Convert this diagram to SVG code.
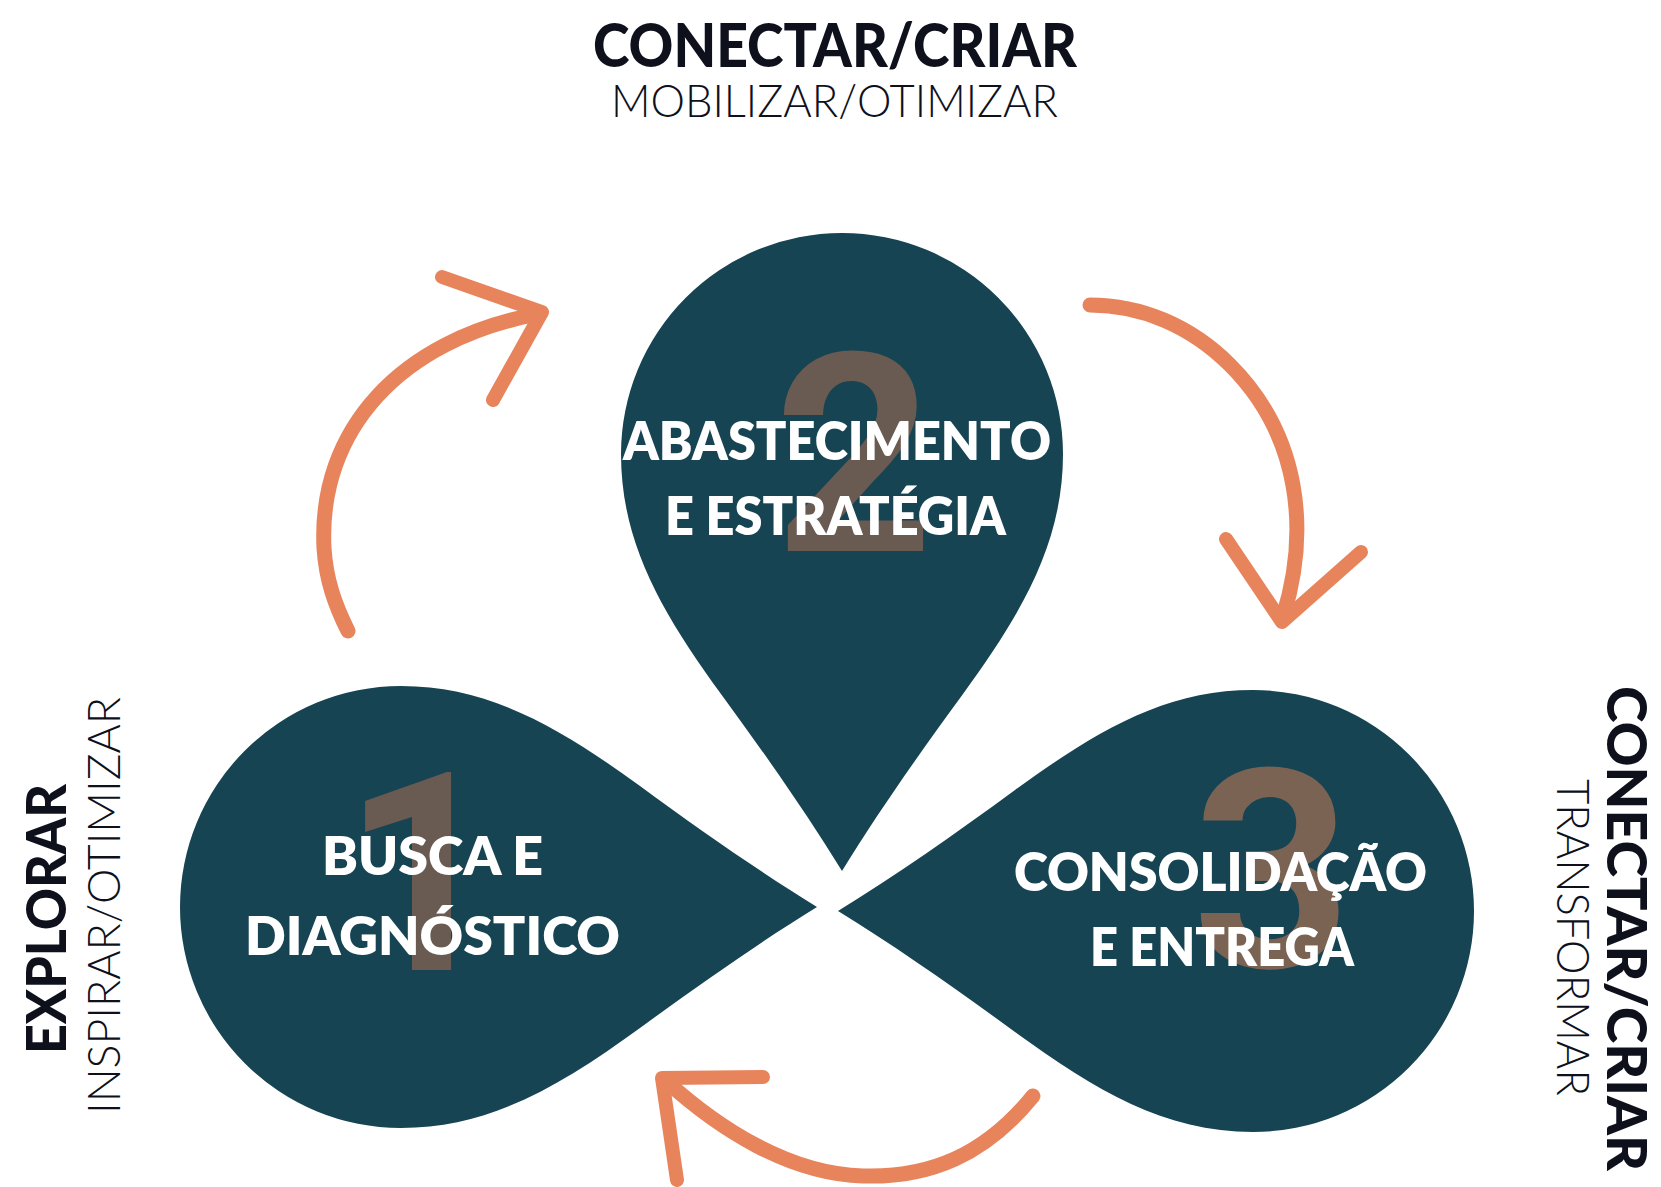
<svg xmlns="http://www.w3.org/2000/svg" width="1661" height="1187" viewBox="0 0 1661 1187">
<style>
.drop{fill:#174453}
.digit{font-family:Roboto,"Liberation Sans",sans-serif;font-weight:700;font-size:278px;fill:#6a5b52;text-anchor:middle}
.lbl{font-family:Lato,"Liberation Sans",sans-serif;font-weight:800;font-size:52px;fill:#ffffff}
.h1{font-family:Lato,"Liberation Sans",sans-serif;font-weight:900;fill:#0e111c}
.h2{font-family:Lato,"Liberation Sans",sans-serif;font-weight:300;fill:#0e111c}
.arr{fill:none;stroke:#e8845c;stroke-width:15;stroke-linecap:round;stroke-linejoin:round}
.head{fill:none;stroke:#e8845c;stroke-width:14;stroke-linecap:round;stroke-linejoin:round}
</style>
<rect width="1661" height="1187" fill="#ffffff"/>

<g id="title-top">
<text class="h1" x="593" y="67" font-size="60" textLength="484" lengthAdjust="spacingAndGlyphs">CONECTAR/CRIAR</text>
<text class="h2" x="611" y="117" font-size="45" textLength="447" lengthAdjust="spacingAndGlyphs">MOBILIZAR/OTIMIZAR</text>
</g>

<g id="title-left">
<text class="h1" font-size="56" transform="translate(66,1054) rotate(-90)" textLength="270" lengthAdjust="spacingAndGlyphs">EXPLORAR</text>
<text class="h2" font-size="46" transform="translate(120,1114) rotate(-90)" textLength="417" lengthAdjust="spacingAndGlyphs">INSPIRAR/OTIMIZAR</text>
</g>

<g id="title-right">
<text class="h1" font-size="55" transform="translate(1607,686) rotate(90)" textLength="485" lengthAdjust="spacingAndGlyphs">CONECTAR/CRIAR</text>
<text class="h2" font-size="46" transform="translate(1557,779) rotate(90)" textLength="317" lengthAdjust="spacingAndGlyphs">TRANSFORMAR</text>
</g>

<g id="node-1">
<path class="drop" d="M 817 907 C 760 872, 700 830, 640 786 C 560 728, 490 686, 401 686 A 221 221 0 0 0 401 1128 C 490 1128, 560 1086, 640 1028 C 700 984, 760 942, 817 907 Z"/>
<text class="digit" x="422" y="970">1</text>
<text class="lbl" x="322" y="875" textLength="221" lengthAdjust="spacingAndGlyphs">BUSCA E</text>
<text class="lbl" x="245" y="955" textLength="375" lengthAdjust="spacingAndGlyphs">DIAGNÓSTICO</text>
</g>

<g id="node-2">
<path class="drop" d="M 842 871 C 807 814, 765 754, 721 694 C 663 614, 621 544, 621 454 A 221 221 0 0 1 1063 454 C 1063 544, 1021 614, 963 694 C 919 754, 877 814, 842 871 Z"/>
<text class="digit" x="854" y="551">2</text>
<text class="lbl" x="623" y="460" textLength="428" lengthAdjust="spacingAndGlyphs">ABASTECIMENTO</text>
<text class="lbl" x="665" y="535" textLength="341" lengthAdjust="spacingAndGlyphs">E ESTRATÉGIA</text>
</g>

<g id="node-3">
<path class="drop" d="M 838 911 C 895 876, 955 834, 1015 790 C 1095 732, 1164 690, 1253 690 A 221 221 0 0 1 1253 1132 C 1164 1132, 1095 1090, 1015 1032 C 955 988, 895 946, 838 911 Z"/>
<text class="digit" x="1272" y="967" style="fill:#7b6354">3</text>
<text class="lbl" x="1014" y="891" textLength="413" lengthAdjust="spacingAndGlyphs">CONSOLIDAÇÃO</text>
<text class="lbl" x="1090" y="966" textLength="264" lengthAdjust="spacingAndGlyphs">E ENTREGA</text>
</g>

<g id="connectors">
<g id="arrow-1-2">
<path class="arr" d="M 348 631 C 335 605, 326 580, 324 548 C 318 430, 400 340, 538 314"/>
<polyline class="head" points="442,277 542,312 493,400"/>
</g>
<g id="arrow-2-3">
<path class="arr" d="M 1090 305 C 1140 305, 1190 325, 1230 365 C 1300 435, 1310 530, 1283 617"/>
<polyline class="head" points="1226,539 1282,622 1361,552"/>
</g>
<g id="arrow-3-1">
<path class="arr" d="M 1033 1096 C 985 1155, 930 1178, 863 1176 C 790 1174, 720 1130, 665 1080"/>
<polyline class="head" points="763,1077 662,1078 677,1180"/>
</g>
</g>
</svg>
